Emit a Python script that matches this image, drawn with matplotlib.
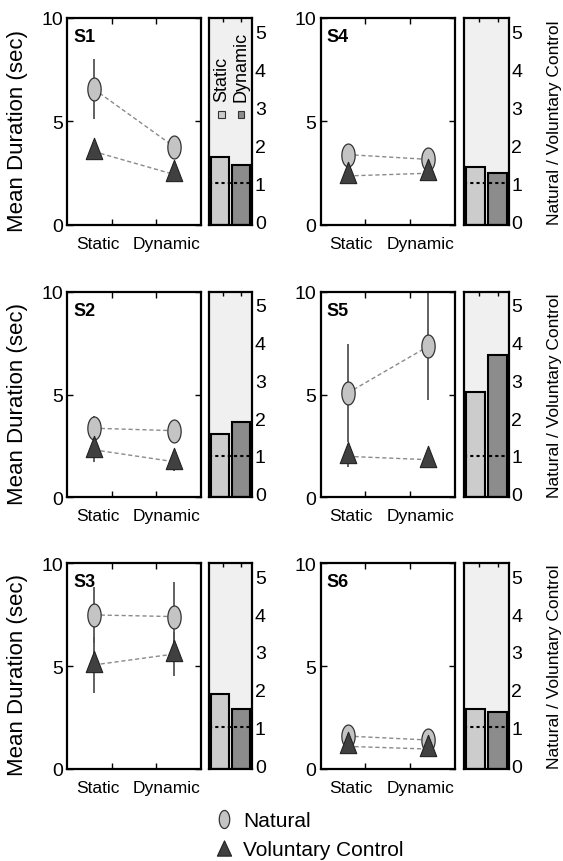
import numpy as np
import matplotlib
matplotlib.use("Agg")
import matplotlib.pyplot as plt
from matplotlib.path import Path
from matplotlib.markers import MarkerStyle
from matplotlib.lines import Line2D
from matplotlib.patches import Rectangle
from matplotlib import font_manager as fm

# ---------------- data ----------------
subjects = ["S1", "S2", "S3", "S4", "S5", "S6"]
conditions = ["Static", "Dynamic"]

nat_mean = {"S1": [6.57, 3.78], "S2": [3.36, 3.24], "S3": [7.49, 7.41],
            "S4": [3.40, 3.17], "S5": [5.07, 7.34], "S6": [1.60, 1.41]}
nat_err = {"S1": [1.47, 0.30], "S2": [0.60, 0.30], "S3": [1.35, 1.67],
           "S4": [0.20, 0.20], "S5": [2.39, 2.60], "S6": [0.10, 0.10]}
vc_mean = {"S1": [3.55, 2.44], "S2": [2.31, 1.73], "S3": [5.06, 5.59],
           "S4": [2.37, 2.50], "S5": [1.99, 1.83], "S6": [1.10, 0.97]}
vc_err = {"S1": [0.30, 0.30], "S2": [0.61, 0.44], "S3": [1.37, 1.05],
          "S4": [0.20, 0.20], "S5": [0.53, 0.30], "S6": [0.10, 0.10]}
ratio = {"S1": [1.70, 1.48], "S2": [1.59, 1.90], "S3": [1.88, 1.50],
         "S4": [1.44, 1.27], "S5": [2.68, 3.68], "S6": [1.48, 1.42]}

main_yticks = [0, 5, 10]
ratio_yticks = [0, 1, 2, 3, 4, 5]

# ---------------- style ----------------
names = {f.name for f in fm.fontManager.ttflist}
NARROW = "Liberation Sans Narrow" in names
plt.rcParams["font.family"] = ["Liberation Sans", "DejaVu Sans"]
narrow_fam = ["Liberation Sans Narrow", "Liberation Sans"] if NARROW else ["Liberation Sans"]
xlab_size = 15 if NARROW else 12.5
rlab_size = 15 if NARROW else 12.5

th = np.linspace(0, 2 * np.pi, 80)
ellipse = MarkerStyle(Path(np.column_stack([0.58 * np.cos(th), np.sin(th)]), closed=True))
tri = MarkerStyle(Path([(0, 1), (-0.58, -0.5), (0.58, -0.5), (0, 1)], closed=True))
tri_leg = MarkerStyle(Path([(0, 1), (-0.93, -1), (0.93, -1), (0, 1)], closed=True))

NAT_FC = "#c4c4c4"
VC_FC = "#404040"
BAR_COLORS = ["#cccccc", "#8c8c8c"]

W, H = 563, 862
fig = plt.figure(figsize=(W / 100, H / 100), dpi=100)


def rect(x0, x1, yt, yb):
    return [x0 / W, (H - yb) / H, (x1 - x0) / W, (yb - yt) / H]


cols = [((67, 201), (209, 252)), ((320.7, 455), (464.3, 508.7))]
rows = [(19, 226), (292.7, 498.3), (564.3, 770)]
layout = {"S1": (0, 0), "S2": (0, 1), "S3": (0, 2),
          "S4": (1, 0), "S5": (1, 1), "S6": (1, 2)}

xpos = [0.2, 0.8]
RLIM = (-0.1, 5.35)

for s in subjects:
    c, r = layout[s]
    (mx0, mx1), (bx0, bx1) = cols[c]
    yt, yb = rows[r]
    ax = fig.add_axes(rect(mx0, mx1, yt, yb))
    bx = fig.add_axes(rect(bx0, bx1, yt, yb))

    # main axes
    ax.plot(xpos, nat_mean[s], ls=(0, (3, 2)), color="#8a8a8a", lw=1, zorder=1)
    ax.plot(xpos, vc_mean[s], ls=(0, (3, 2)), color="#8a8a8a", lw=1, zorder=1)
    ax.errorbar(xpos, nat_mean[s], yerr=nat_err[s], fmt="none", ecolor="#555555",
                elinewidth=1.3, capsize=0, zorder=2)
    ax.errorbar(xpos, vc_mean[s], yerr=vc_err[s], fmt="none", ecolor="#555555",
                elinewidth=1.3, capsize=0, zorder=2)
    ax.plot(xpos, nat_mean[s], ls="none", marker=ellipse, ms=16.5, mfc=NAT_FC,
            mec="#333333", mew=0.9, zorder=3)
    ax.plot(xpos, vc_mean[s], ls="none", marker=tri, ms=20.5, mfc=VC_FC,
            mec="#222222", mew=0.8, zorder=4)
    ax.set_xlim(0, 1)
    ax.set_ylim(0, 10)
    ax.set_yticks(main_yticks)
    ax.set_xticks([1 / 3, 2 / 3])
    ax.set_xticklabels([])
    ax.set_xticks([0.228, 0.746], minor=True)
    ax.set_xticklabels(conditions, minor=True, family=narrow_fam, fontsize=xlab_size)
    ax.tick_params(axis="x", which="minor", length=0, pad=8)
    ax.tick_params(axis="both", which="major", direction="in", top=True, right=True,
                   length=4, width=1, labelsize=14, pad=3)
    for sp in ax.spines.values():
        sp.set_linewidth(1.6)
    ax.text(0.045, 0.91, s, transform=ax.transAxes, fontsize=13, fontweight="bold",
            ha="left", va="center")
    if c == 0:
        ax.set_ylabel("Mean Duration (sec)", fontsize=16)
        ax.yaxis.set_label_coords(-0.29, 0.46)

    # ratio axes
    bx.set_facecolor("#f0f0f0")
    bx.bar([1, 2], np.array(ratio[s]) - RLIM[0], bottom=RLIM[0], width=0.85,
           color=BAR_COLORS, edgecolor="black", linewidth=1.5, zorder=2)
    bx.axhline(1, color="black", ls=(0, (1.5, 1.5)), lw=1.5, zorder=3)
    bx.set_xlim(0.5, 2.5)
    bx.set_ylim(*RLIM)
    bx.set_xticks([1.15, 2.0])
    bx.set_xticklabels([])
    bx.tick_params(axis="x", direction="in", top=True, length=3, width=1)
    bx.yaxis.tick_right()
    bx.set_yticks(ratio_yticks)
    bx.tick_params(axis="y", length=0, labelsize=14, pad=2)
    for sp in bx.spines.values():
        sp.set_linewidth(1.6)
    if c == 1:
        bx.yaxis.set_label_position("right")
        bx.set_ylabel("Natural / Voluntary Control", family=narrow_fam,
                      fontsize=rlab_size, rotation=90)
        bx.yaxis.set_label_coords(1.86, 0.5)

    if s == "S1":
        for i, (lab, xf) in enumerate(zip(conditions, [0.295, 0.744])):
            bx.add_patch(Rectangle((xf - 0.08, 0.535 - 0.017), 0.16, 0.034,
                                   transform=bx.transAxes, facecolor=BAR_COLORS[i],
                                   edgecolor="#333333", lw=0.8, zorder=5))
            bx.text(xf - 0.01, 0.60, lab, transform=bx.transAxes, rotation=90,
                    ha="center", va="bottom", fontsize=13, zorder=5)

# bottom legend
handles = [
    Line2D([], [], ls="none", marker=ellipse, ms=13, mfc=NAT_FC, mec="#333333", mew=0.9),
    Line2D([], [], ls="none", marker=tri_leg, ms=11, mfc=VC_FC, mec="#222222", mew=0.8),
]
fig.legend(handles, ["Natural", "Voluntary Control"], loc="center left",
           bbox_to_anchor=(214 / W, 1 - 836 / H), frameon=False, fontsize=15,
           handlelength=1.0, handletextpad=0.4, labelspacing=0.5, borderpad=0,
           borderaxespad=0)

fig.savefig("out.png", dpi=100)
